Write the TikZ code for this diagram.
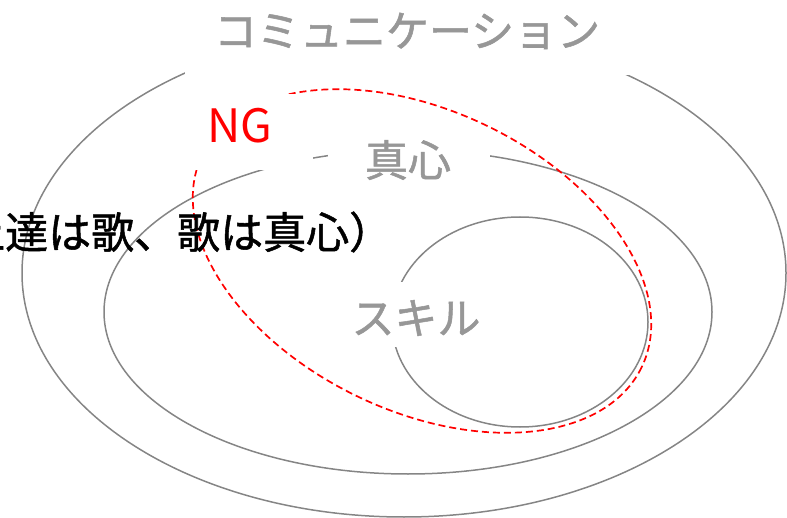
\documentclass[tikz,border=0pt]{standalone}
\usepackage{fontspec}
\setmainfont{Noto Sans CJK JP}
\newfontfamily\boldishcjk[FakeBold=1.2]{Noto Sans CJK JP}
\definecolor{linegray}{HTML}{858585}
\definecolor{textgray}{HTML}{979797}
\begin{document}
\begin{tikzpicture}[x=1pt,y=-1pt,
  ring/.style={draw=linegray, line width=1.5pt},
  ngring/.style={draw=red, line width=1.7pt, dash pattern=on 7pt off 4pt},
  mask/.style={fill=white},
  graylabel/.style={text=textgray, inner sep=0pt, font=\boldishcjk\fontsize{43}{43}\selectfont},
  blacklabel/.style={text=black, inner sep=0pt, font=\boldishcjk\fontsize{43}{43}\selectfont},
  nglabel/.style={text=red, inner sep=0pt, font=\fontsize{46}{46}\selectfont}]
\useasboundingbox (0,0) rectangle (787,518);
\clip (0,0) rectangle (787,518);
% rings
\draw[ring] (404,273) ellipse [x radius=382, y radius=244];
\draw[ring] (408,312) ellipse [x radius=304, y radius=162];
\draw[ring] (520,322) ellipse [x radius=128, y radius=105];
% NG dashed ellipse
\draw[ngring, shift={(422,261)}, rotate=-25.8] (0,0) ellipse [x radius=244, y radius=150];
% white masks behind labels
\fill[mask] (185,0) rectangle (632,75);
\fill[mask] (170,94) rectangle (313,170);
\fill[mask] (328,130) rectangle (490,185);
\fill[mask] (310,282) rectangle (485,347);
% labels
\node[graylabel] (comm) at (407,31) {コミュニケーション};
\node[graylabel] (magokoro) at (408,160) {真心};
\node[graylabel] (skill) at (416,318) {スキル};
\node[nglabel] (ng) at (240,126) {NG};
\node[blacklabel, anchor=west] (motto) at (-81,232) {（上達は歌、歌は真心）};
\end{tikzpicture}
\end{document}
